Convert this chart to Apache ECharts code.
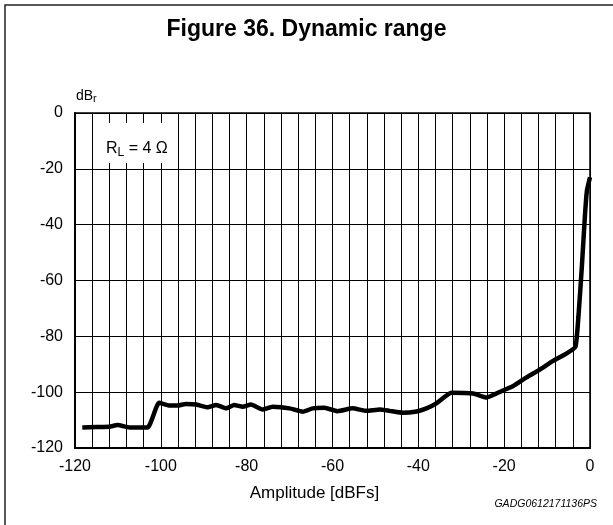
<!DOCTYPE html>
<html>
<head>
<meta charset="utf-8">
<script src="https://cdn.jsdelivr.net/npm/echarts@6/dist/echarts.min.js"></script>
<style>
  html, body { margin: 0; padding: 0; background: #fff; }
  #chart { width: 613px; height: 525px; }
</style>
</head>
<body>
<div id="chart"></div>
<script>
// amplitude in dBFs, level in dBr
const amplitude = [-118.3, -115, -112, -110.1, -107, -103.1, -100.4, -98, -96.1, -94.2, -91.8, -89.1, -87.1, -84.8,
  -82.9, -80.9, -79, -76.3, -73.9, -70, -66.9, -64.6, -61.9, -58.8, -55.3, -52.1, -49, -46.7, -43.6, -40.4,
  -38.1, -35.8, -32.3, -27.2, -24.1, -21, -17.9, -14.8, -11.7, -8.6, -5.4, -3.4, -2.7, -1.9, -1.2, -0.7, 0];
const level = [-112.7, -112.5, -112.4, -111.8, -112.7, -112.7, -103.8, -104.8, -104.8, -104.2, -104.4, -105.4, -104.6, -105.8,
  -104.6, -105.2, -104.4, -106.2, -105.2, -105.8, -107, -105.8, -105.6, -106.8, -105.8, -106.7, -106.2, -106.7, -107.4, -106.9,
  -105.8, -104, -100.2, -100.5, -101.9, -99.9, -97.8, -94.7, -91.9, -88.8, -86.1, -83.8, -73, -55.1, -37.2, -27.6, -23];

const xTicks = [-120, -100, -80, -60, -40, -20, 0];
const yTicks = [-120, -100, -80, -60, -40, -20, 0];

const chart = echarts.init(document.getElementById('chart'));
const font = 'Liberation Sans, Arial, sans-serif';

chart.setOption({
  animation: false,
  backgroundColor: '#fff',
  textStyle: { fontFamily: font },
  title: {
    text: 'Figure 36. Dynamic range',
    left: 'center',
    top: 13,
    textStyle: { fontSize: 23, fontWeight: 'bold', color: '#000', fontFamily: font }
  },
  graphic: [
    { type: 'rect', shape: { x: 5, y: 5, width: 640, height: 560 }, style: { fill: 'none', stroke: '#222', lineWidth: 1.5 } },
    {
      type: 'text', left: 76, top: 89,
      style: {
        text: '{a|dB}{s|r}',
        rich: {
          a: { fontSize: 14, fontFamily: font, fill: '#000' },
          s: { fontSize: 11, fontFamily: font, fill: '#000', padding: [6, 0, 0, 0] }
        }
      }
    },
    {
      type: 'text', left: 102, top: 123, z: 100,
      style: {
        text: '{a|R}{s|L}{a| = 4 Ω}',
        backgroundColor: '#fff',
        padding: [15, 6, 4, 4],
        rich: {
          a: { fontSize: 16, fontFamily: font, fill: '#000' },
          s: { fontSize: 12, fontFamily: font, fill: '#000', padding: [9, 0, 0, 0] }
        }
      }
    },
    {
      type: 'text', right: 16, top: 499,
      style: { text: 'GADG0612171136PS', fontSize: 10.5, fontStyle: 'italic', fontFamily: font, fill: '#000' }
    }
  ],
  grid: {
    left: 75, right: 23, top: 113, bottom: 77,
    show: true, borderColor: '#000', borderWidth: 1.5
  },
  xAxis: {
    type: 'value',
    min: xTicks[0], max: xTicks[xTicks.length - 1], interval: 20,
    name: 'Amplitude [dBFs]',
    nameLocation: 'middle',
    nameGap: 37,
    nameTextStyle: { fontSize: 17, color: '#000', fontFamily: font, padding: [0, 36, 0, 0] },
    axisLine: { onZero: false, lineStyle: { color: '#000', width: 2 } },
    axisTick: { show: false },
    axisLabel: { fontSize: 16, color: '#000', margin: 11, fontFamily: font },
    splitLine: { show: true, lineStyle: { color: '#000', width: 1 } },
    minorTick: { show: false, splitNumber: 5 },
    minorSplitLine: { show: true, lineStyle: { color: '#000', width: 1 } }
  },
  yAxis: {
    type: 'value',
    min: yTicks[0], max: yTicks[yTicks.length - 1], interval: 20,
    axisLine: { onZero: false, lineStyle: { color: '#000', width: 2 } },
    axisTick: { show: false },
    axisLabel: { fontSize: 16, color: '#000', margin: 12, fontFamily: font },
    splitLine: { show: true, lineStyle: { color: '#000', width: 1 } }
  },
  series: [{
    type: 'line',
    data: amplitude.map((a, i) => [a, level[i]]),
    showSymbol: false,
    smooth: 0.15,
    lineStyle: { color: '#000', width: 4.5 },
    z: 10
  }]
});
</script>
</body>
</html>
